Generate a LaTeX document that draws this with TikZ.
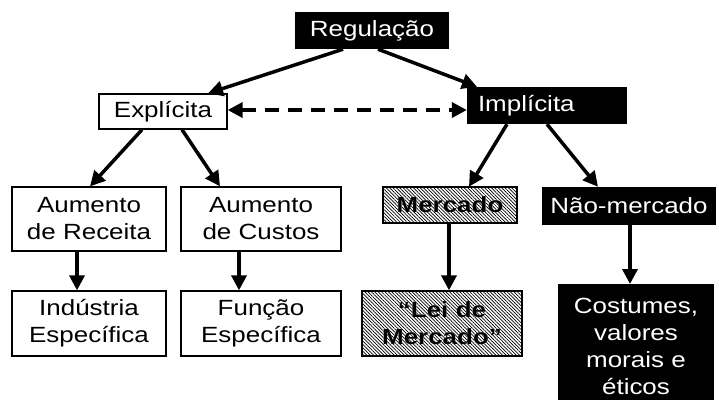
\documentclass[tikz,border=0pt]{standalone}
\usepackage{fontspec}
\setmainfont{Liberation Sans}[FakeStretch=1.18]
\usepackage[outline]{contour}
\contourlength{1.2pt}
\usetikzlibrary{arrows.meta,patterns.meta,calc}
\begin{document}
\begin{tikzpicture}[x=1pt,y=-1pt,
  every node/.style={font=\fontsize{22}{27}\selectfont, inner sep=0pt, align=center},
  wbox/.style={draw, line width=1.3pt, fill=white},
  bbox/.style={fill=black, text=white},
  hbox/.style={draw, line width=1.3pt, font=\fontsize{22}{27}\selectfont\bfseries,
    pattern={Lines[angle=-45,distance=2.4pt,line width=0.7pt]}},
  arr/.style={line width=3.5pt, -{Triangle[length=15pt,width=15pt]}},
  darr/.style={line width=3.5pt, dash pattern=on 14pt off 9pt,
    {Triangle[length=15pt,width=15pt]}-{Triangle[length=15pt,width=15pt]}}
]
\useasboundingbox (0,0) rectangle (719,399);
% top
\node[bbox, minimum width=154pt, minimum height=37pt, text width=154pt] (reg) at (372,30.5) {Regulação};
\node[wbox, minimum width=128pt, minimum height=35pt, text width=128pt] (expl) at (163,111.5) {Explícita};
\node[bbox, minimum width=160pt, minimum height=37pt, text width=138pt, inner xsep=11pt, align=left] (impl) at (547,105.5) {Implícita};
% second row
\node[wbox, minimum width=154pt, minimum height=64pt, text width=154pt] (rec) at (89,219) {Aumento\\de Receita};
\node[wbox, minimum width=160pt, minimum height=64pt, text width=160pt] (cus) at (261,219) {Aumento\\de Custos};
\node[hbox, minimum width=134pt, minimum height=36pt, text width=134pt] (mer) at (450,205) {\contour{white}{Mercado}};
\node[bbox, minimum width=174pt, minimum height=38pt, text width=174pt] (nmer) at (629,206) {Não-mercado};
% third row
\node[wbox, minimum width=154pt, minimum height=65pt, text width=154pt] (ind) at (89,323.5) {Indústria\\Específica};
\node[wbox, minimum width=160pt, minimum height=65pt, text width=160pt] (fun) at (261,323.5) {Função\\Específica};
\node[hbox, minimum width=160pt, minimum height=65pt, text width=160pt] (lei) at (442,323.5) {\contour{white}{“Lei de}\\\contour{white}{Mercado”}};
\node[bbox, anchor=north, minimum width=156pt, minimum height=124pt, text width=156pt] (cost) at (636,284) {Costumes,\\valores\\morais e\\éticos};
% connectors
\draw[arr] ([xshift=-29pt]reg.south) -- ([xshift=45pt]expl.north);
\draw[arr] ([xshift=6pt]reg.south) -- ([xshift=-70pt]impl.north);
\draw[darr] (expl.east |- 0,110) -- (impl.west |- 0,110);
\draw[arr] ([xshift=-21pt]expl.south) -- ([xshift=1pt]rec.north);
\draw[arr] ([xshift=19pt]expl.south) -- ([xshift=-41pt]cus.north);
\draw[arr] ([xshift=-40pt]impl.south) -- ([xshift=19pt]mer.north);
\draw[arr] (impl.south) -- ([xshift=-31pt]nmer.north);
\draw[arr] ([xshift=-12pt]rec.south) -- ([xshift=-12pt]ind.north);
\draw[arr] ([xshift=-22pt]cus.south) -- ([xshift=-22pt]fun.north);
\draw[arr] ([xshift=-1pt]mer.south) -- ([xshift=7pt]lei.north);
\draw[arr] ([xshift=1pt]nmer.south) -- ([xshift=-6pt]cost.north);
\end{tikzpicture}
\end{document}
